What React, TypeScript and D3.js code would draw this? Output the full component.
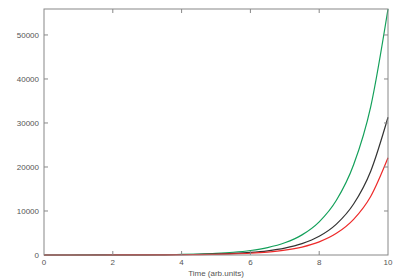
import { useRef, useEffect } from "react";
import * as d3 from "d3";

const times = [0, 0.5, 1, 1.5, 2, 2.5, 3, 3.5, 4, 4.5, 5, 5.5, 6, 6.5, 7, 7.5, 8, 8.5, 9, 9.5, 10];
const redVals = [1, 2, 3, 4, 7, 12, 20, 33, 55, 90, 148, 245, 403, 665, 1097, 1808, 2981, 4915, 8103, 13360, 22100];
const blackVals = [1, 2, 4, 6, 11, 17, 29, 47, 78, 129, 212, 350, 577, 951, 1568, 2585, 4263, 7028, 11587, 19105, 31300];
const greenVals = [3, 4, 7, 11, 19, 31, 51, 84, 138, 228, 375, 619, 1021, 1683, 2774, 4574, 7542, 12435, 20500, 33800, 55900];
const xTicks = [0, 2, 4, 6, 8, 10];
const yTicks = [0, 10000, 20000, 30000, 40000, 50000];

const series = [
  { name: "green", vals: greenVals, color: "#13a05a" },
  { name: "black", vals: blackVals, color: "#333333" },
  { name: "red", vals: redVals, color: "#ee2a2a" },
];

const App = () => {
  const container = useRef<HTMLDivElement>(null);

  useEffect(() => {
    const width = 400;
    const height = 280;
    const m = { t: 9, r: 12, b: 25, l: 44 };
    const w = width - m.l - m.r;
    const h = height - m.t - m.b;

    const svg = d3
      .select(container.current)
      .selectAll("svg")
      .data([0])
      .join("svg")
      .attr("width", width)
      .attr("height", height)
      .style("display", "block")
      .style("font-family", "Liberation Sans, Arial, sans-serif");

    svg.selectAll("*").remove();

    const x = d3.scaleLinear().domain([0, 10]).range([0, w]);
    const y = d3
      .scaleLinear()
      .domain([0, d3.max(greenVals) as number])
      .range([h, 0]);

    const g = svg.append("g").attr("transform", `translate(${m.l},${m.t})`);

    const line = d3
      .line<number>()
      .x((_, i) => x(times[i]))
      .y((d) => y(d))
      .curve(d3.curveMonotoneX);

    series.forEach((s) => {
      g.append("path")
        .datum(s.vals)
        .attr("d", line)
        .attr("fill", "none")
        .attr("stroke", s.color)
        .attr("stroke-width", 1.2);
    });

    const axisColor = "#888";
    const tickLen = 4;

    // frame
    g.append("rect")
      .attr("x", 0)
      .attr("y", 0)
      .attr("width", w)
      .attr("height", h)
      .attr("fill", "none")
      .attr("stroke", axisColor)
      .attr("stroke-width", 1);

    // inward ticks, mirrored on top and right
    xTicks.forEach((t) => {
      if (t === 0 || t === 10) return;
      g.append("line").attr("x1", x(t)).attr("x2", x(t)).attr("y1", h).attr("y2", h - tickLen).attr("stroke", axisColor);
      g.append("line").attr("x1", x(t)).attr("x2", x(t)).attr("y1", 0).attr("y2", tickLen).attr("stroke", axisColor);
    });
    yTicks.forEach((t) => {
      if (t === 0) return;
      g.append("line").attr("x1", 0).attr("x2", tickLen).attr("y1", y(t)).attr("y2", y(t)).attr("stroke", axisColor);
      g.append("line").attr("x1", w).attr("x2", w - tickLen).attr("y1", y(t)).attr("y2", y(t)).attr("stroke", axisColor);
    });

    g.selectAll(".xlab")
      .data(xTicks)
      .join("text")
      .attr("class", "xlab")
      .attr("x", (d) => x(d))
      .attr("y", h + 10)
      .attr("text-anchor", "middle")
      .attr("font-size", 8)
      .attr("fill", "#555")
      .text((d) => d);

    g.selectAll(".ylab")
      .data(yTicks)
      .join("text")
      .attr("class", "ylab")
      .attr("x", -5)
      .attr("y", (d) => y(d) + 3)
      .attr("text-anchor", "end")
      .attr("font-size", 8)
      .attr("fill", "#555")
      .text((d) => d);

    g.append("text")
      .attr("x", w / 2)
      .attr("y", h + 21)
      .attr("text-anchor", "middle")
      .attr("font-size", 8)
      .attr("fill", "#555")
      .text("Time (arb.units)");
  });

  return <div ref={container} style={{ position: "absolute", left: 0, top: 0 }}></div>;
};

export default App;
